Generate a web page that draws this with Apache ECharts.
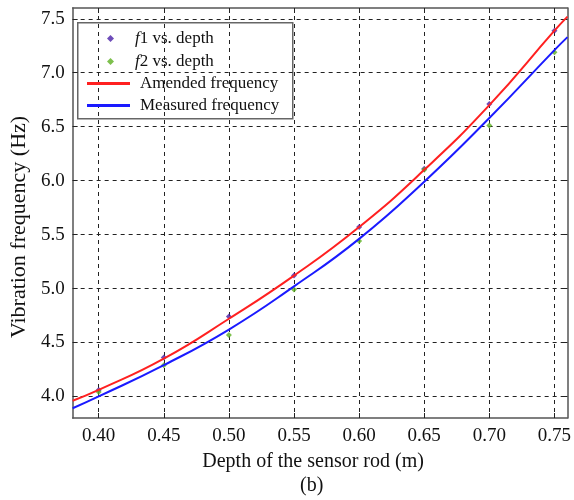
<!DOCTYPE html>
<html>
<head>
<meta charset="utf-8">
<script src="https://cdn.jsdelivr.net/npm/echarts@6/dist/echarts.min.js"></script>
<style>
  html, body { margin: 0; padding: 0; background: #fff; }
  #chart { width: 574px; height: 500px; }
</style>
</head>
<body>
<div id="chart"></div>
<script>
// depth of the sensor rod (m)
var depthCurve = [0.38, 0.40, 0.45, 0.50, 0.55, 0.60, 0.65, 0.70, 0.75, 0.76];
var amended = [3.96, 4.06, 4.35, 4.72, 5.12, 5.57, 6.10, 6.70, 7.39, 7.52];
var measured = [3.89, 4.00, 4.29, 4.62, 5.02, 5.46, 5.99, 6.58, 7.21, 7.33];

var depthPts = [0.40, 0.45, 0.50, 0.55, 0.60, 0.65, 0.70, 0.75];
var f1 = [4.06, 4.36, 4.74, 5.12, 5.57, 6.11, 6.71, 7.39];
var f2 = [4.04, 4.29, 4.57, 4.99, 5.44, 6.10, 6.51, 7.19];

var xTicks = [0.40, 0.45, 0.50, 0.55, 0.60, 0.65, 0.70, 0.75];
var yTicks = [4.0, 4.5, 5.0, 5.5, 6.0, 6.5, 7.0, 7.5];

function pairs(xs, ys) {
  return xs.map(function (x, i) { return [x, ys[i]]; });
}

var font = 'Liberation Serif';
var frame = '#555';

var myChart = echarts.init(document.getElementById('chart'));
var option = {
  backgroundColor: '#fff',
  animation: false,
  title: {
    text: '(b)',
    left: 300, top: 476,
    padding: 0,
    textStyle: { fontFamily: font, fontSize: 20, fontWeight: 'normal', color: '#111' }
  },
  grid: { left: 70, top: 8, right: 2, bottom: 82 },
  xAxis: [{
    type: 'value', min: 0.38, max: 0.76,
    name: 'Depth of the sensor rod (m)', nameLocation: 'middle', nameGap: 34,
    nameTextStyle: { fontFamily: font, fontSize: 20, color: '#111', padding: [0, 14, 0, 0] },
    axisLine: { lineStyle: { color: frame, width: 1.5 } },
    axisTick: { inside: true, length: 5, customValues: xTicks, lineStyle: { color: '#222' } },
    axisLabel: { customValues: xTicks, fontFamily: font, fontSize: 19, color: '#111', margin: 9,
      formatter: function (v) { return v.toFixed(2); } },
    splitLine: { show: true, lineStyle: { color: '#222', type: [4, 4], width: 1 } }
  }, {
    type: 'value', min: 0.38, max: 0.76, position: 'top',
    axisLine: { lineStyle: { color: frame, width: 1.5 } },
    axisTick: { inside: true, length: 5, customValues: xTicks, lineStyle: { color: '#222' } },
    axisLabel: { show: false },
    splitLine: { show: false }
  }],
  yAxis: [{
    type: 'value', min: 3.8, max: 7.6,
    name: 'Vibration frequency (Hz)', nameLocation: 'middle', nameGap: 38,
    nameTextStyle: { fontFamily: font, fontSize: 22, color: '#111', padding: [0, 28, 0, 0] },
    axisLine: { show: true, lineStyle: { color: frame, width: 1.5 } },
    axisTick: { show: true, inside: true, length: 5, customValues: yTicks, lineStyle: { color: '#222' } },
    axisLabel: { customValues: yTicks, fontFamily: font, fontSize: 19, color: '#111', margin: 8,
      formatter: function (v) { return v.toFixed(1); } },
    splitLine: { show: true, lineStyle: { color: '#222', type: [4, 4], width: 1 } }
  }, {
    type: 'value', min: 3.8, max: 7.6, position: 'right',
    axisLine: { show: true, lineStyle: { color: frame, width: 1.5 } },
    axisTick: { show: true, inside: true, length: 5, customValues: yTicks, lineStyle: { color: '#222' } },
    axisLabel: { show: false },
    splitLine: { show: false }
  }],
  legend: [{
    orient: 'vertical', left: 107, top: 30, itemGap: 6, padding: 0,
    itemWidth: 7, itemHeight: 7, icon: 'diamond',
    data: ['f1 vs. depth', 'f2 vs. depth'],
    formatter: function (n) { return '{i|' + n.slice(0, 1) + '}' + n.slice(1); },
    textStyle: {
      fontFamily: font, fontSize: 17, color: '#111', padding: [0, 0, 0, 16],
      rich: { i: { fontFamily: font, fontSize: 17, fontStyle: 'italic', color: '#111' } }
    }
  }, {
    orient: 'vertical', left: 87, top: 75, itemGap: 5, padding: 0,
    itemWidth: 43, itemHeight: 3, icon: 'rect',
    data: ['Amended frequency', 'Measured frequency'],
    textStyle: { fontFamily: font, fontSize: 17, color: '#111', padding: [0, 0, 0, 5] }
  }],
  graphic: [{
    type: 'rect', left: 77, top: 22, z: 0,
    shape: { width: 215, height: 96 },
    style: { fill: '#fff', stroke: '#666', lineWidth: 1.5 }
  }],
  series: [{
    name: 'Amended frequency', type: 'line', smooth: true, showSymbol: false, symbol: 'none',
    data: pairs(depthCurve, amended),
    lineStyle: { color: '#ff2020', width: 2 }, itemStyle: { color: '#ff2020' }, z: 3
  }, {
    name: 'Measured frequency', type: 'line', smooth: true, showSymbol: false, symbol: 'none',
    data: pairs(depthCurve, measured),
    lineStyle: { color: '#1a1aff', width: 2 }, itemStyle: { color: '#1a1aff' }, z: 3
  }, {
    name: 'f1 vs. depth', type: 'scatter', symbol: 'diamond', symbolSize: 6,
    data: pairs(depthPts, f1), itemStyle: { color: '#4a1fa8' }, z: 2
  }, {
    name: 'f2 vs. depth', type: 'scatter', symbol: 'diamond', symbolSize: 6,
    data: pairs(depthPts, f2), itemStyle: { color: '#5cb020' }, z: 2
  }]
};
myChart.setOption(option);
</script>
</body>
</html>
